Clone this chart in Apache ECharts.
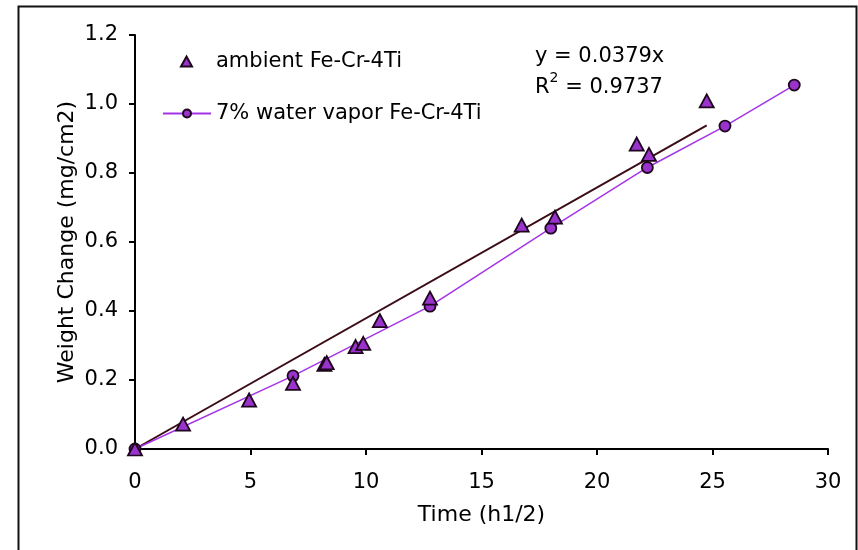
<!DOCTYPE html>
<html>
<head>
<meta charset="utf-8">
<script src="https://cdn.jsdelivr.net/npm/echarts@6/dist/echarts.min.js"></script>
<style>html,body{margin:0;padding:0;background:#fff;}#c{width:858px;height:550px;}</style>
</head>
<body>
<div id="c"></div>
<script>
// ---- data ----
const ambientX = [0, 2.08, 4.94, 6.84, 8.2, 8.3, 9.55, 9.88, 10.6, 12.77, 16.74, 18.18, 21.72, 22.25, 24.75];
const ambientY = [0, 0.072, 0.142, 0.19, 0.245, 0.25, 0.297, 0.306, 0.372, 0.437, 0.649, 0.672, 0.884, 0.854, 1.009];
const vaporX = [0, 6.84, 12.77, 18.0, 22.18, 25.54, 28.54];
const vaporY = [0, 0.212, 0.414, 0.640, 0.816, 0.936, 1.055];
const trendSlope = 0.0379;
const trendX = [0, 24.75];
const xTicks = [0, 5, 10, 15, 20, 25, 30];
const yTicks = [0.0, 0.2, 0.4, 0.6, 0.8, 1.0, 1.2];
const nameAmbient = 'ambient Fe-Cr-4Ti';
const nameVapor = '7% water vapor Fe-Cr-4Ti';

const zip = (xs, ys) => xs.map((x, i) => [x, ys[i]]);
const FONT = 'DejaVu Sans';
const FS = 21;
const FT = 22;
const purple = '#9933cc';
const markerBorder = '#1e061e';

const chart = echarts.init(document.getElementById('c'));
chart.setOption({
  animation: false,
  backgroundColor: '#fff',
  textStyle: { fontFamily: FONT },
  grid: { left: 135, top: 35, width: 693, height: 414, containLabel: false },
  xAxis: {
    type: 'value', min: xTicks[0], max: xTicks[xTicks.length - 1], interval: 5,
    name: 'Time (h1/2)', nameLocation: 'middle', nameGap: 55, nameMoveOverlap: false,
    nameTextStyle: { fontFamily: FONT, fontSize: FT, color: '#000' },
    axisLine: { show: true, onZero: false, lineStyle: { color: '#000', width: 2 } },
    axisTick: { show: true, length: 6, inside: false, lineStyle: { color: '#000', width: 2 } },
    axisLabel: { fontFamily: FONT, fontSize: FS, color: '#000', margin: 23 },
    splitLine: { show: false }
  },
  yAxis: {
    type: 'value', min: yTicks[0], max: yTicks[yTicks.length - 1], interval: 0.2,
    name: 'Weight Change (mg/cm2)', nameLocation: 'middle', nameGap: 57, nameRotate: 90, nameMoveOverlap: false,
    nameTextStyle: { fontFamily: FONT, fontSize: FT, color: '#000' },
    axisLine: { show: true, onZero: false, lineStyle: { color: '#000', width: 2 } },
    axisTick: { show: true, length: 6, inside: false, lineStyle: { color: '#000', width: 2 } },
    axisLabel: { fontFamily: FONT, fontSize: FS, color: '#000', margin: 17, formatter: v => v.toFixed(1) },
    splitLine: { show: false }
  },
  legend: [
    {
      left: 175, top: 46, itemWidth: 11, itemHeight: 10, itemGap: 0,
      data: [{ name: nameAmbient }],
      textStyle: { fontFamily: FONT, fontSize: FS, color: '#000', padding: [0, 0, 0, 19] }
    },
    {
      left: 157, top: 98, itemWidth: 48, itemHeight: 10, itemGap: 0,
      data: [{ name: nameVapor }],
      textStyle: { fontFamily: FONT, fontSize: FS, color: '#000' }
    }
  ],
  graphic: [
    { type: 'rect', left: 16, top: 4, shape: { width: 838, height: 560 }, style: { fill: 'none', stroke: '#111', lineWidth: 2 }, silent: true },
    { type: 'text', left: 535, top: 46, style: { text: 'y = 0.0379x', font: '21px "DejaVu Sans"', fill: '#000' } },
    { type: 'text', left: 535, top: 71, style: {
        text: '{a|R}{s|2}{a| = 0.9737}',
        rich: { a: { font: '21px "DejaVu Sans"', fill: '#000', verticalAlign: 'bottom', lineHeight: 27 },
                s: { font: '14px "DejaVu Sans"', fill: '#000', verticalAlign: 'top', lineHeight: 27 } } } }
  ],
  series: [
    {
      name: 'trend', type: 'line', data: zip(trendX, trendX.map(x => trendSlope * x)),
      showSymbol: false, symbol: 'none', z: 3,
      lineStyle: { color: '#3b0c16', width: 2 }
    },
    {
      name: nameVapor, type: 'line', data: zip(vaporX, vaporY), z: 4,
      symbol: 'circle', symbolSize: 11, showSymbol: true,
      lineStyle: { color: '#a534e8', width: 1.5 },
      itemStyle: { color: purple, borderColor: markerBorder, borderWidth: 1.8, opacity: 1 }
    },
    {
      name: nameAmbient, type: 'scatter', data: zip(ambientX, ambientY), z: 5,
      symbol: 'triangle', symbolSize: [14, 13],
      itemStyle: { color: purple, borderColor: markerBorder, borderWidth: 1.8, opacity: 1 }
    }
  ]
});
</script>
</body>
</html>
